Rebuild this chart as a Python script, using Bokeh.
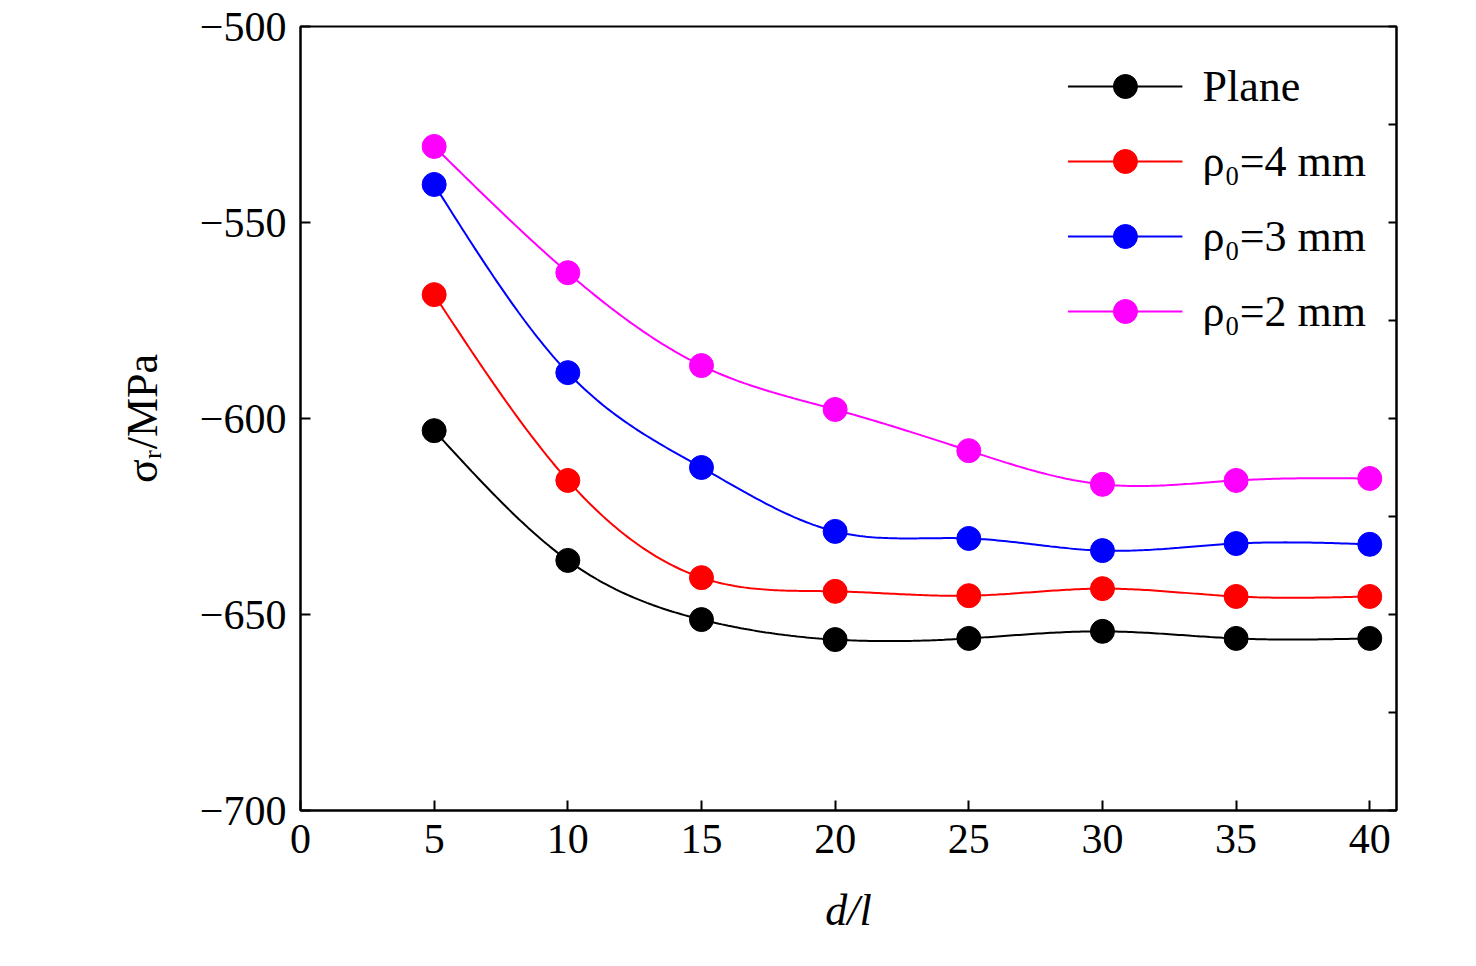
import numpy as np
from bokeh.plotting import figure
from bokeh.models import LinearAxis, Range1d, Legend, LegendItem, FixedTicker
from bokeh.embed import file_html
from bokeh.resources import INLINE

x = [5, 10, 15, 20, 25, 30, 35, 40]
plane = [-603.1, -636.2, -651.3, -656.4, -656.1, -654.3, -656.1, -656.1]
rho4 = [-568.4, -615.8, -640.6, -644.1, -645.2, -643.4, -645.4, -645.4]
rho3 = [-540.3, -588.3, -612.5, -628.8, -630.6, -633.7, -631.9, -632.1]
rho2 = [-530.6, -562.8, -586.5, -597.7, -608.2, -616.8, -615.8, -615.3]
labels = ["Plane", "ρ₀=4 mm", "ρ₀=3 mm", "ρ₀=2 mm"]
colors = ["black", "red", "blue", "magenta"]

def spline(xs, ys, n=300):
    xs = np.asarray(xs, float); ys = np.asarray(ys, float)
    m = len(xs); h = np.diff(xs)
    A = np.zeros((m, m)); b = np.zeros(m)
    A[0, 0] = A[-1, -1] = 1
    for i in range(1, m - 1):
        A[i, i - 1] = h[i - 1]; A[i, i] = 2 * (h[i - 1] + h[i]); A[i, i + 1] = h[i]
        b[i] = 6 * ((ys[i + 1] - ys[i]) / h[i] - (ys[i] - ys[i - 1]) / h[i - 1])
    M = np.linalg.solve(A, b)
    xx = np.linspace(xs[0], xs[-1], n)
    idx = np.clip(np.searchsorted(xs, xx) - 1, 0, m - 2)
    x0, x1 = xs[idx], xs[idx + 1]; hh = x1 - x0
    yy = (M[idx] * (x1 - xx) ** 3 + M[idx + 1] * (xx - x0) ** 3) / (6 * hh) \
        + (ys[idx] / hh - M[idx] * hh / 6) * (x1 - xx) + (ys[idx + 1] / hh - M[idx + 1] * hh / 6) * (xx - x0)
    return xx, yy

FONT = "Liberation Serif"
p = figure(frame_width=1096, frame_height=784, min_border_left=300, min_border_top=26,
           min_border_right=50, min_border_bottom=140, output_backend="svg",
           toolbar_location=None, x_range=Range1d(0, 41), y_range=Range1d(-700, -500))
p.outline_line_color = "black"; p.outline_line_width = 2
p.grid.visible = False

items = []
for ys, lab, c in zip([plane, rho4, rho3, rho2], labels, colors):
    xx, yy = spline(x, ys)
    l = p.line(xx, yy, line_color=c, line_width=2)
    s = p.scatter(x, ys, size=24, fill_color=c, line_color=c)
    items.append(LegendItem(label=lab, renderers=[l, s]))

for ax in [p.xaxis[0], p.yaxis[0]]:
    ax.major_label_text_font = FONT
    ax.major_label_text_font_size = "42px"
    ax.major_label_text_color = "black"
    ax.axis_label_text_font = FONT
    ax.axis_label_text_font_size = "44px"
    ax.axis_label_text_color = "black"
    ax.axis_label_text_font_style = "italic"
    ax.major_tick_in = 10; ax.major_tick_out = 0
    ax.minor_tick_in = 0; ax.minor_tick_out = 0
    ax.axis_line_width = 2; ax.major_tick_line_width = 2
    ax.major_label_standoff = 14
p.xaxis.ticker = FixedTicker(ticks=list(range(0, 41, 5)))
p.yaxis.ticker = FixedTicker(ticks=[-700, -650, -600, -550, -500])
p.xaxis.axis_label = "d/l"
p.xaxis.axis_label_standoff = 30
p.yaxis.axis_label = "σᵣ/MPa"
p.yaxis.axis_label_text_font_style = "normal"
p.yaxis.axis_label_standoff = 30
p.yaxis.major_label_orientation = "horizontal"

ra = LinearAxis(ticker=FixedTicker(ticks=[-700, -675, -650, -625, -600, -575, -550, -525, -500]),
                major_label_text_alpha=0, major_label_text_font_size="10px",
                major_tick_in=8, major_tick_out=0,
                minor_tick_out=0, axis_line_width=2, major_tick_line_width=2)
p.add_layout(ra, "right")

leg = Legend(items=items, location="top_right", border_line_alpha=0, background_fill_alpha=0,
             label_text_font=FONT, label_text_font_size="44px", label_text_color="black",
             glyph_width=115, glyph_height=60, spacing=15, margin=20, label_standoff=20)
p.add_layout(leg)

open("out.html", "w").write(file_html(p, INLINE))
